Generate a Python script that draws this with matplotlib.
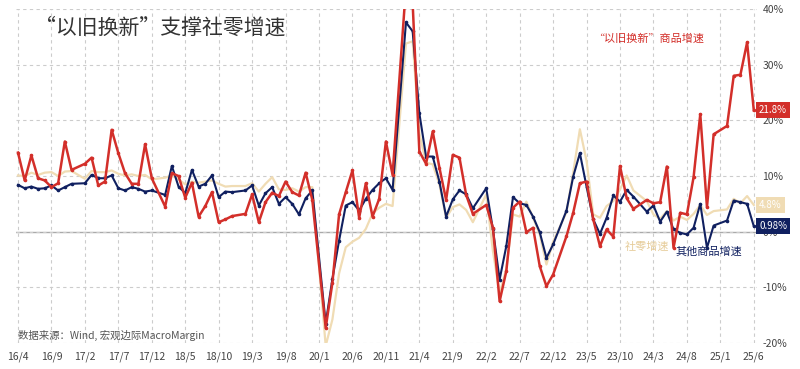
import numpy as np
import matplotlib
matplotlib.use("Agg")
import matplotlib.pyplot as plt
import matplotlib.transforms as mtransforms

plt.rcParams['font.family'] = ['Noto Sans CJK SC', 'DejaVu Sans']
plt.rcParams['axes.unicode_minus'] = False

nan = np.nan

# monthly, 2016/4 .. 2025/6 (January values not released -> nan)
tick_labels = ['16/4', '16/9', '17/2', '17/7', '17/12', '18/5', '18/10', '19/3',
               '19/8', '20/1', '20/6', '20/11', '21/4', '21/9', '22/2', '22/7',
               '22/12', '23/5', '23/10', '24/3', '24/8', '25/1', '25/6']

# 社零增速
retail = [10.1, 10.0, 10.6, 10.2, 10.6, 10.7, 10.0, 10.8, 10.9,
          nan, 9.5, 10.9, 10.7, 10.7, 11.0, 10.4, 10.1, 10.3, 10.0, 10.2, 9.4,
          nan, 9.7, 10.1, 9.4, 8.5, 9.0, 8.8, 9.0, 9.2, 8.6, 8.1, 8.2,
          nan, 8.2, 8.7, 7.2, 8.6, 9.8, 7.6, 7.5, 7.8, 7.2, 8.0, 8.0,
          nan, -20.5, -15.8, -7.5, -2.8, -1.8, -1.1, 0.5, 3.3, 4.3, 5.0, 4.6,
          nan, 33.8, 34.2, 17.7, 12.4, 12.1, 8.5, 2.5, 4.4, 4.9, 3.9, 1.7,
          nan, 6.7, -3.5, -11.1, -6.7, 3.1, 2.7, 5.4, 2.5, -0.5, -5.9, -1.8,
          nan, 3.5, 10.6, 18.4, 12.7, 3.1, 2.5, 4.6, 5.5, 7.6, 10.1, 7.4,
          nan, 5.5, 3.1, 2.3, 3.7, 2.0, 2.7, 2.1, 3.2, 4.8, 3.0, 3.7,
          nan, 4.0, 5.9, 5.1, 6.4, 4.8]

# "以旧换新"商品增速
trade_in = [14.2, 9.2, 13.7, 9.6, 9.2, 8.0, 8.7, 16.2, 11.1,
            nan, 12.2, 13.3, 8.3, 9.0, 18.3, 14.1, 10.5, 8.6, 8.6, 15.7, 9.6,
            nan, 4.5, 10.5, 10.0, 6.1, 8.8, 2.7, 4.6, 7.1, 1.7, 2.2, 2.8,
            nan, 3.2, 6.7, 1.7, 5.3, 7.0, 6.4, 9.0, 7.1, 6.5, 10.6, 5.7,
            nan, -17.3, -9.2, 3.1, 7.1, 11.0, 2.5, 8.7, 2.7, 5.9, 16.2, 10.2,
            nan, 44.0, 41.0, 14.4, 12.2, 18.0, 11.5, 5.7, 13.8, 13.3, 6.6, 3.2,
            nan, 4.8, 0.7, -12.5, -7.1, 4.3, 5.4, -0.1, 0.7, -6.2, -9.8, -7.7,
            nan, -0.8, 3.4, 8.7, 9.0, 2.2, -2.6, 0.4, -0.9, 11.8, 6.0, 4.1,
            nan, 5.7, 5.1, 5.3, 11.7, -2.9, 3.4, 3.1, 9.8, 21.1, 4.4, 17.5,
            nan, 19.0, 28.0, 28.2, 34.0, 21.8]

# 其他商品增速
other = [8.4, 7.8, 8.1, 7.7, 7.8, 8.3, 7.4, 8.0, 8.6,
         nan, 8.7, 10.2, 9.6, 9.6, 10.1, 7.8, 7.4, 8.0, 7.7, 7.2, 7.4,
         nan, 6.6, 11.8, 8.1, 6.9, 11.1, 8.1, 8.6, 10.1, 6.2, 7.2, 7.1,
         nan, 7.4, 8.3, 4.7, 6.9, 8.0, 5.0, 6.2, 5.0, 3.1, 6.0, 7.4,
         nan, -16.5, -8.5, -1.6, 4.7, 5.3, 3.8, 5.9, 7.5, 8.7, 9.6, 7.5,
         nan, 37.6, 36.0, 21.3, 13.5, 13.5, 9.0, 2.7, 5.8, 7.4, 6.7, 4.2,
         nan, 7.8, 0.4, -8.6, -2.6, 6.2, 5.1, 4.8, 2.7, -0.1, -4.7, -2.3,
         nan, 3.8, 9.9, 14.1, 8.1, 2.2, -0.4, 2.5, 6.5, 5.4, 7.5, 6.3,
         nan, 3.6, 4.7, 1.8, 3.6, 0.4, -0.2, -0.5, 0.7, 5.0, -2.9, 1.1,
         nan, 2.0, 5.6, 5.3, 5.0, 0.98]

RED = '#d32f2a'
NAVY = '#102060'
TAN = '#f0dcb4'

fig = plt.figure(figsize=(8, 3.69), dpi=100)
ax = fig.add_axes([0.02, 0.0705, 0.926, 0.905])

x = np.arange(len(retail))


def draw(vals, **kw):
    v = np.array(vals, dtype=float)
    m = ~np.isnan(v)
    ax.plot(x[m], v[m], **kw)


ax.axhline(0, color='#aaaaaa', lw=1.0, zorder=1)
draw(retail, color=TAN, lw=1.6, zorder=2)
draw(other, color=NAVY, lw=1.5, marker='o', ms=1.6, zorder=3)
draw(trade_in, color=RED, lw=1.8, marker='o', ms=1.6, zorder=4)

ax.set_xlim(-0.3, len(retail) - 1 + 0.45)
ax.set_ylim(-20, 40)
ax.set_xticks(np.arange(0, len(retail), 5))
ax.set_xticklabels(tick_labels)
ax.set_yticks(np.arange(-20, 41, 10))
ax.set_yticklabels(['%d%%' % v for v in np.arange(-20, 41, 10)])
ax.yaxis.tick_right()
ax.tick_params(axis='both', length=0, labelsize=7.5, colors='#444444')
ax.tick_params(axis='x', pad=6)
ax.tick_params(axis='y', pad=4)
ax.grid(True, color='#cccccc', lw=0.8, ls=(0, (3, 3)))
for s in ax.spines.values():
    s.set_visible(False)

# end value boxes
trans = mtransforms.blended_transform_factory(ax.transAxes, ax.transData)
for val, col, txt in [(trade_in[-1], RED, '21.8%'), (retail[-1], TAN, '4.8%'),
                      (other[-1], NAVY, '0.98%')]:
    ax.text(1.003, val, txt, transform=trans, ha='left', va='center',
            fontsize=7, color='white', clip_on=False, zorder=10,
            bbox=dict(boxstyle='square,pad=0.3', fc=col, ec='none'))

fig.text(0.044, 0.924, '“以旧换新”支撑社零增速', fontsize=15, color='#333333',
         va='center', fontweight='light')
fig.text(0.741, 0.894, '“以旧换新”商品增速', fontsize=8, color=RED, va='center')
fig.text(0.781, 0.331, '社零增速', fontsize=8, color='#e6cc99', va='center')
fig.text(0.844, 0.317, '其他商品增速', fontsize=8, color=NAVY, va='center')
fig.text(0.0225, 0.092, '数据来源：Wind, 宏观边际MacroMargin', fontsize=7.5,
         color='#555555', va='center')

fig.savefig('out.png', dpi=100)
